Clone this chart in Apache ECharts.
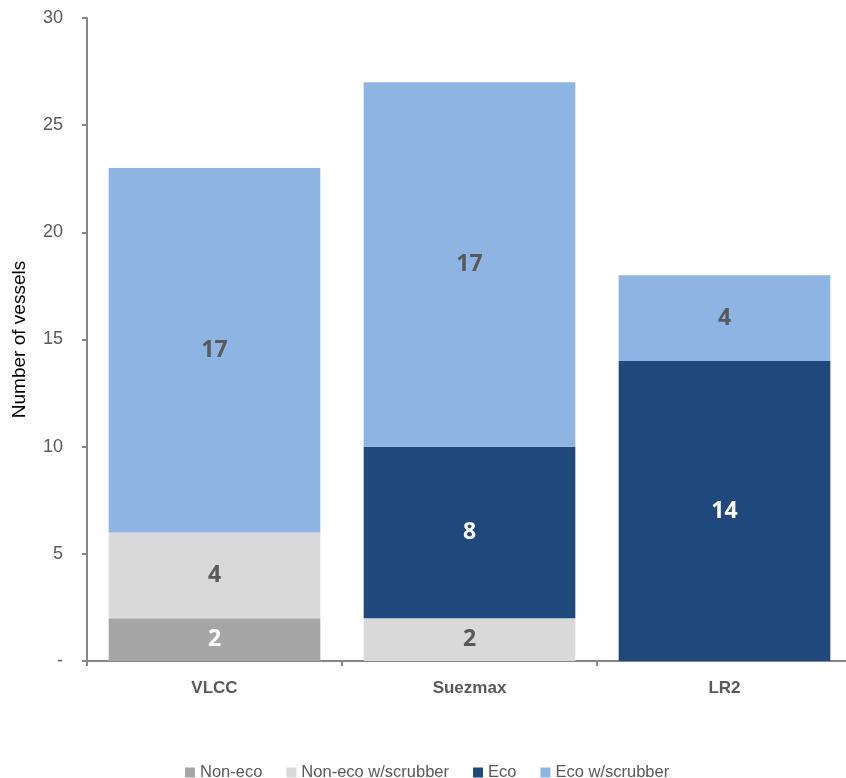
<!DOCTYPE html>
<html>
<head>
<meta charset="utf-8">
<script src="https://cdn.jsdelivr.net/npm/echarts@6/dist/echarts.min.js"></script>
<style>
  html, body { margin: 0; padding: 0; background: #fff; }
  #chart { width: 846px; height: 778px; }
</style>
</head>
<body>
<div id="chart"></div>
<script>
const categories = ['VLCC', 'Suezmax', 'LR2']
const nonEco = [2, 0, 0]
const nonEcoScrubber = [4, 2, 0]
const eco = [0, 8, 14]
const ecoScrubber = [17, 17, 4]

const drawEcharts = (option, id) => {
  let dom = document.getElementById(id)
  let echart = echarts.init(dom)
  option && echart.setOption(option)
}

// 堆叠柱状图
const makeSeries = (name, data, color, labelColor) => ({
  name: name,
  type: 'bar',
  stack: 'total',
  data: data,
  barCategoryGap: '17%',
  itemStyle: { color: color },
  label: {
    show: true,
    position: 'inside',
    color: labelColor,
    fontFamily: 'Open Sans',
    fontWeight: 'bold',
    fontSize: 23,
    formatter: p => (p.value ? p.value : '')
  }
})

const option = {
  animation: false,
  textStyle: { fontFamily: 'Liberation Sans' },
  grid: { left: 87, top: 18, bottom: 117, width: 765, outerBoundsMode: 'none' },
  legend: {
    top: 759,
    left: 180,
    itemWidth: 10,
    itemHeight: 10,
    itemGap: 24,
    icon: 'rect',
    textStyle: { color: '#595959', fontSize: 16.5 },
    data: ['Non-eco', 'Non-eco w/scrubber', 'Eco', 'Eco w/scrubber']
  },
  xAxis: {
    type: 'category',
    data: categories,
    axisLine: { lineStyle: { color: '#868686', width: 2 } },
    axisTick: { show: true, length: 5, alignWithLabel: false, lineStyle: { color: '#868686', width: 2 } },
    axisLabel: { color: '#595959', fontWeight: 'bold', fontSize: 17, margin: 19 }
  },
  yAxis: {
    type: 'value',
    min: 0,
    max: 30,
    interval: 5,
    name: 'Number of vessels',
    nameLocation: 'middle',
    nameGap: 58,
    nameTextStyle: { color: '#000', fontSize: 19 },
    axisLine: { show: true, lineStyle: { color: '#868686', width: 2 } },
    axisTick: { show: true, length: 5, lineStyle: { color: '#868686', width: 2 } },
    splitLine: { show: false },
    axisLabel: {
      color: '#595959',
      fontSize: 18,
      margin: 24,
      formatter: v => (v === 0 ? '-' : v)
    }
  },
  series: [
    makeSeries('Non-eco', nonEco, '#a6a6a6', '#ffffff'),
    makeSeries('Non-eco w/scrubber', nonEcoScrubber, '#d9d9d9', '#595959'),
    makeSeries('Eco', eco, '#1f497d', '#ffffff'),
    makeSeries('Eco w/scrubber', ecoScrubber, '#8eb4e3', '#595959')
  ]
}

drawEcharts(option, 'chart')
</script>
</body>
</html>
